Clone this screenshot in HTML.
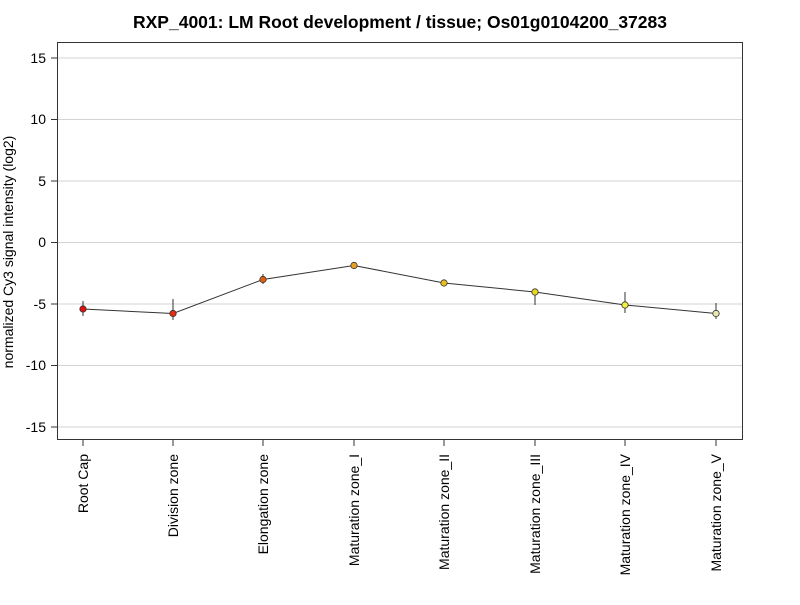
<!DOCTYPE html>
<html><head><style>body{margin:0;background:#fff}</style></head><body>
<svg width="800" height="600" xmlns="http://www.w3.org/2000/svg" font-family="Liberation Sans, Arial, sans-serif">
<rect width="800" height="600" fill="#fff"/>
<text x="400" y="28" text-anchor="middle" font-size="17.5" font-weight="bold">RXP_4001: LM Root development / tissue; Os01g0104200_37283</text>
<g stroke="#d3d3d3" stroke-width="1">
<line x1="57" x2="742" y1="58" y2="58"/><line x1="57" x2="742" y1="119.5" y2="119.5"/><line x1="57" x2="742" y1="181" y2="181"/><line x1="57" x2="742" y1="242.5" y2="242.5"/><line x1="57" x2="742" y1="304" y2="304"/><line x1="57" x2="742" y1="365.5" y2="365.5"/><line x1="57" x2="742" y1="427" y2="427"/>
</g>
<rect x="57.5" y="42.5" width="685" height="397" fill="none" stroke="#333"/>
<g stroke="#333"><line x1="51" x2="57" y1="58" y2="58"/><line x1="51" x2="57" y1="119.5" y2="119.5"/><line x1="51" x2="57" y1="181" y2="181"/><line x1="51" x2="57" y1="242.5" y2="242.5"/><line x1="51" x2="57" y1="304" y2="304"/><line x1="51" x2="57" y1="365.5" y2="365.5"/><line x1="51" x2="57" y1="427" y2="427"/>
<line x1="83" x2="83" y1="440" y2="446"/><line x1="173" x2="173" y1="440" y2="446"/><line x1="263" x2="263" y1="440" y2="446"/><line x1="354" x2="354" y1="440" y2="446"/><line x1="444" x2="444" y1="440" y2="446"/><line x1="535" x2="535" y1="440" y2="446"/><line x1="625" x2="625" y1="440" y2="446"/><line x1="716" x2="716" y1="440" y2="446"/></g>
<g font-size="14" text-anchor="end"><text x="46" y="63">15</text><text x="46" y="124">10</text><text x="46" y="186">5</text><text x="46" y="247">0</text><text x="46" y="309">-5</text><text x="46" y="370">-10</text><text x="46" y="432">-15</text></g>
<text transform="translate(13,252) rotate(-90)" text-anchor="middle" font-size="14">normalized Cy3 signal intensity (log2)</text>
<g font-size="14" text-anchor="end">
<text transform="translate(88,454) rotate(-90)">Root Cap</text>
<text transform="translate(178,454) rotate(-90)">Division zone</text>
<text transform="translate(268,454) rotate(-90)">Elongation zone</text>
<text transform="translate(359,454) rotate(-90)">Maturation zone_I</text>
<text transform="translate(449,454) rotate(-90)">Maturation zone_II</text>
<text transform="translate(540,454) rotate(-90)">Maturation zone_III</text>
<text transform="translate(630,454) rotate(-90)">Maturation zone_IV</text>
<text transform="translate(721,454) rotate(-90)">Maturation zone_V</text>
</g>
<g stroke="#333" stroke-width="1">
<line x1="83" x2="83" y1="301" y2="316"/><line x1="173" x2="173" y1="299" y2="320"/><line x1="263" x2="263" y1="274" y2="284"/><line x1="535" x2="535" y1="292" y2="305"/><line x1="625" x2="625" y1="292" y2="313"/><line x1="716" x2="716" y1="303" y2="319"/>
</g>
<polyline fill="none" stroke="#333" points="83,309 173,313.5 263,279.5 354,265.5 444,283 535,292 625,305 716,313.5"/>
<g stroke="#333" stroke-width="0.8">
<circle cx="83" cy="309" r="3.2" fill="#e01010"/><circle cx="173" cy="313.5" r="3.2" fill="#e82a10"/><circle cx="263" cy="279.5" r="3.2" fill="#e06010"/><circle cx="354" cy="265.5" r="3.2" fill="#e8a020"/><circle cx="444" cy="283" r="3.2" fill="#e8c020"/><circle cx="535" cy="292" r="3.2" fill="#e8d820"/><circle cx="625" cy="305" r="3.2" fill="#f0f040"/><circle cx="716" cy="313.5" r="3.2" fill="#e8e8b0"/>
</g>
</svg>
</body></html>
